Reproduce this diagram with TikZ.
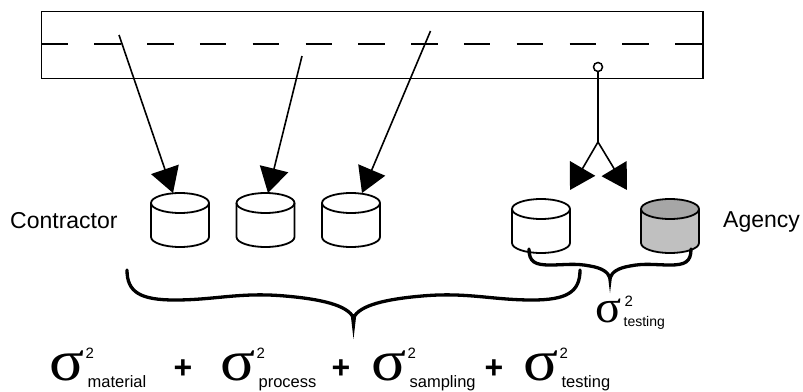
\documentclass[tikz,border=0pt]{standalone}
\usepackage{fontspec}
\setmainfont{Liberation Sans}
\newfontfamily\greekserif{Liberation Serif}
\usetikzlibrary{arrows.meta}
\definecolor{drumtop}{HTML}{A6A6A6}
\definecolor{drumbody}{HTML}{C0C0C0}
\tikzset{
  outline/.style={line width=1.8pt, line join=round},
  feed/.style={line width=1.6pt, -{Triangle[length=25pt,width=29pt]}},
  bracestroke/.style={line width=3.3pt, line cap=round},
  sidelabel/.style={inner sep=0pt, font=\fontsize{23}{26}\selectfont},
  sigbig/.style={inner sep=0pt, font=\fontsize{58}{60}\greekserif},
  sigsmall/.style={inner sep=0pt, font=\fontsize{46}{48}\greekserif},
  squared/.style={inner sep=0pt, font=\fontsize{15}{17}\selectfont},
  subbig/.style={inner sep=0pt, font=\fontsize{16.5}{18}\selectfont},
  subsmall/.style={inner sep=0pt, font=\fontsize{14}{16}\selectfont},
  plus/.style={inner sep=0pt, font=\fontsize{32}{34}\selectfont\bfseries},
  pics/drum/.style n args={2}{code={
    \fill[#2] (-29,10) -- (-29,44) arc[start angle=180,end angle=0,x radius=29,y radius=10]
       -- (29,10) arc[start angle=0,end angle=180,x radius=29,y radius=10] -- cycle;
    \fill[#1] (0,10) ellipse[x radius=29,y radius=10];
    \draw[outline] (-29,10) -- (-29,44) arc[start angle=180,end angle=0,x radius=29,y radius=10] -- (29,10);
    \draw[outline] (0,10) ellipse[x radius=29,y radius=10];
    \coordinate (-top) at (0,0);
    \coordinate (-base) at (0,54);
  }}
}
\begin{document}
\begin{tikzpicture}[x=1pt,y=-1pt]
  \fill[white] (0,0) rectangle (803,391);
  \useasboundingbox (0,0) rectangle (803,391);

  % stockpile strip with its dashed centre line
  \draw[line width=1.8pt] (41.5,11.5) rectangle (703,78.5);
  \draw[line width=1.8pt, dash pattern=on 26.4pt off 26.4pt] (41.5,44) -- (703,44);

  % sample containers
  \pic (c1) at (180,193) {drum={white}{white}};
  \pic (c2) at (265.5,193) {drum={white}{white}};
  \pic (c3) at (351,193) {drum={white}{white}};
  \pic (a1) at (541,199) {drum={white}{white}};
  \pic (a2) at (670,199) {drum={drumtop}{drumbody}};

  % contractor sampling points and arrows
  \coordinate (s1) at (119,35);
  \coordinate (s2) at (302,56);
  \coordinate (s3) at (430.5,31);
  \draw[feed] (s1) -- ([xshift=-7pt]c1-top);
  \draw[feed] (s2) -- ([xshift=2.5pt]c2-top);
  \draw[feed] (s3) -- ([xshift=11pt]c3-top);

  % split sample for the agency
  \node[draw, circle, line width=1.5pt, minimum size=9pt, inner sep=0pt] (tap) at (598,67) {};
  \coordinate (fork) at (598,142);
  \coordinate (t1) at (570,190);
  \coordinate (t2) at (627,190);
  \draw[line width=1.6pt] (tap) -- (fork);
  \draw[feed] (fork) -- (t1);
  \draw[feed] (fork) -- (t2);

  % side labels
  \node[sidelabel, anchor=base west] (contractor) at (10,228) {Contractor};
  \node[sidelabel, anchor=base west] (agency) at (723,227) {Agency};

  % large brace under the contractor samples
  \draw[bracestroke] (127,270) .. controls (127,292) and (140,300) .. (175,300)
     .. controls (215,300) and (240,292) .. (285,296)
     .. controls (320,299) and (348,305) .. (353.5,318)
     .. controls (359,305) and (387,299) .. (422,296)
     .. controls (467,292) and (492,300) .. (532,300)
     .. controls (567,300) and (580,292) .. (580,270);
  \fill (350.6,314) -- (356.4,314) -- (353.5,339) -- cycle;

  % small brace under the agency pair
  \draw[bracestroke] (529,249) .. controls (529,262) and (535,265) .. (550,265)
     .. controls (565,265) and (575,263) .. (590,266)
     .. controls (602,268) and (608,272) .. (610,278)
     .. controls (612,272) and (618,268) .. (630,266)
     .. controls (645,263) and (655,265) .. (670,265)
     .. controls (685,265) and (691,262) .. (691,249);
  \fill (607.8,275) -- (612.2,275) -- (610,293) -- cycle;

  % testing variance under the small brace
  \node[sigsmall, anchor=base west] (vt) at (595,322) {\scalebox{1.05}[1]{σ}};
  \node[squared, anchor=base west] (vt-sq) at ([xshift=3pt,yshift=16pt]vt.base east) {2};
  \node[subsmall, anchor=base west] (vt-sub) at ([xshift=2pt,yshift=-4pt]vt.base east) {testing};

  % total variance
  \node[sigbig, anchor=base west] (vm) at (49,380) {\scalebox{1.12}[1]{σ}};
  \node[squared, anchor=base west] (vm-sq) at ([xshift=1pt,yshift=22pt]vm.base east) {2};
  \node[subbig, anchor=base west] (vm-sub) at ([xshift=3pt,yshift=-7pt]vm.base east) {material};
  \node[plus] (p1) at (183,369) {+};

  \node[sigbig, anchor=base west] (vp) at (220,380) {\scalebox{1.12}[1]{σ}};
  \node[squared, anchor=base west] (vp-sq) at ([xshift=1pt,yshift=22pt]vp.base east) {2};
  \node[subbig, anchor=base west] (vp-sub) at ([xshift=3pt,yshift=-7pt]vp.base east) {process};
  \node[plus] (p2) at (341,369) {+};

  \node[sigbig, anchor=base west] (vs) at (371,380) {\scalebox{1.12}[1]{σ}};
  \node[squared, anchor=base west] (vs-sq) at ([xshift=1pt,yshift=22pt]vs.base east) {2};
  \node[subbig, anchor=base west] (vs-sub) at ([xshift=3pt,yshift=-7pt]vs.base east) {sampling};
  \node[plus] (p3) at (494,369) {+};

  \node[sigbig, anchor=base west] (vx) at (523,380) {\scalebox{1.12}[1]{σ}};
  \node[squared, anchor=base west] (vx-sq) at ([xshift=1pt,yshift=22pt]vx.base east) {2};
  \node[subbig, anchor=base west] (vx-sub) at ([xshift=3pt,yshift=-7pt]vx.base east) {testing};
\end{tikzpicture}
\end{document}
